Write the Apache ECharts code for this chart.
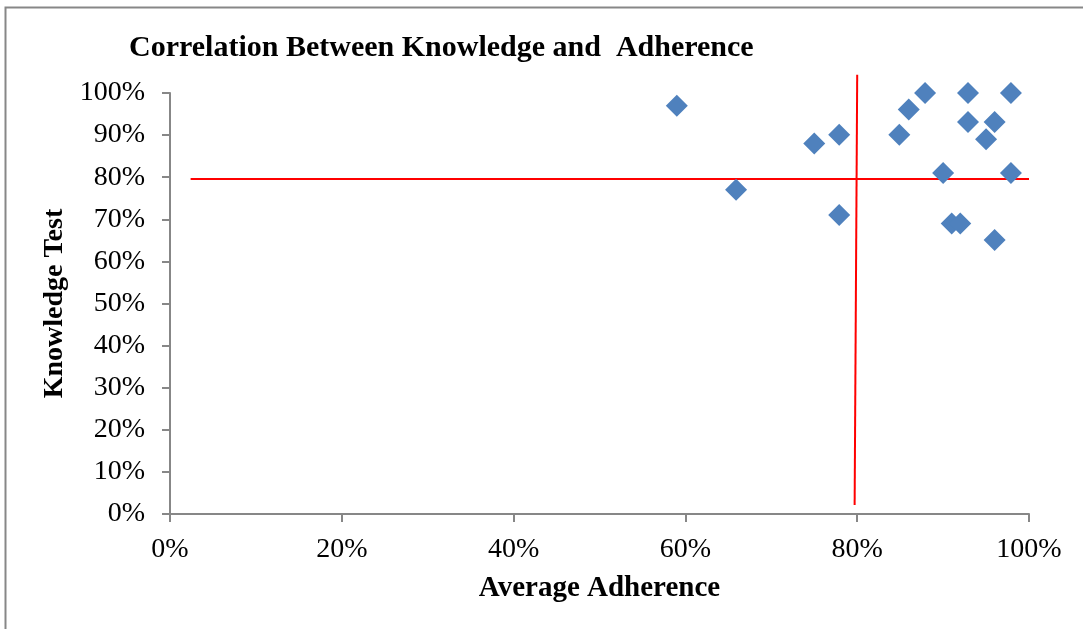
<!DOCTYPE html>
<html>
<head>
<meta charset="utf-8">
<script src="https://cdn.jsdelivr.net/npm/echarts@6/dist/echarts.min.js"></script>
<style>
html,body{margin:0;padding:0;background:#fff;}
#chart{width:1083px;height:629px;}
</style>
</head>
<body>
<div id="chart"></div>
<script>
// Data: [Average Adherence, Knowledge Test]
var adherence = [0.590, 0.659, 0.750, 0.779, 0.779, 0.849, 0.860, 0.879, 0.900, 0.910, 0.920, 0.929, 0.929, 0.950, 0.960, 0.960, 0.979, 0.979];
var knowledge = [0.970, 0.770, 0.880, 0.901, 0.710, 0.901, 0.961, 1.000, 0.810, 0.690, 0.690, 1.000, 0.931, 0.890, 0.931, 0.651, 1.000, 0.810];
// Reference lines (red)
var hLineX = [0.024, 1.0];
var hLineY = [0.7956, 0.7956];
var vLineX = [0.800, 0.797];
var vLineY = [1.0435, 0.0214];
var xTicks = ['0%', '20%', '40%', '60%', '80%', '100%'];
var yTicks = ['0%', '10%', '20%', '30%', '40%', '50%', '60%', '70%', '80%', '90%', '100%'];

var points = adherence.map(function (a, i) { return [a, knowledge[i]]; });
var hLine = hLineX.map(function (x, i) { return [x, hLineY[i]]; });
var vLine = vLineX.map(function (x, i) { return [x, vLineY[i]]; });

var serif = '"Liberation Serif", "DejaVu Serif", serif';
var axisColor = '#878787';

var chart = echarts.init(document.getElementById('chart'), null, {renderer: 'canvas'});
chart.setOption({
  backgroundColor: '#ffffff',
  animation: false,
  title: {
    text: 'Correlation Between Knowledge and  Adherence',
    left: 124,
    top: 28,
    textStyle: {fontFamily: serif, fontWeight: 'bold', fontSize: 30, color: '#000'}
  },
  graphic: [{
    type: 'rect',
    shape: {x: 5.5, y: 7.5, width: 1200, height: 800},
    style: {fill: null, stroke: axisColor, lineWidth: 2},
    silent: true
  }],
  grid: {left: 170, right: 54, top: 93, bottom: 115, containLabel: false},
  xAxis: {
    type: 'value',
    min: 0, max: 1, interval: 0.2,
    name: 'Average Adherence',
    nameLocation: 'middle',
    nameGap: 60,
    nameTextStyle: {fontFamily: serif, fontWeight: 'bold', fontSize: 29, color: '#000'},
    axisLine: {show: true, onZero: false, lineStyle: {color: axisColor, width: 2}},
    axisTick: {show: true, length: 8, inside: false, lineStyle: {color: axisColor, width: 2}},
    splitLine: {show: false},
    axisLabel: {
      margin: 22,
      fontFamily: serif, fontSize: 28, color: '#000',
      formatter: function (v) { return xTicks[Math.round(v / 0.2)]; }
    }
  },
  yAxis: {
    type: 'value',
    min: 0, max: 1, interval: 0.1,
    name: 'Knowledge Test',
    nameLocation: 'middle',
    nameGap: 97,
    nameRotate: 90,
    nameTextStyle: {fontFamily: serif, fontWeight: 'bold', fontSize: 28, color: '#000'},
    axisLine: {show: true, onZero: false, lineStyle: {color: axisColor, width: 2}},
    axisTick: {show: true, length: 8, inside: false, lineStyle: {color: axisColor, width: 2}},
    splitLine: {show: false},
    axisLabel: {
      margin: 25,
      fontFamily: serif, fontSize: 28, color: '#000',
      formatter: function (v) { return yTicks[Math.round(v / 0.1)]; }
    }
  },
  series: [
    {
      type: 'line',
      data: hLine,
      clip: false,
      symbol: 'none',
      lineStyle: {color: '#ff0000', width: 2},
      z: 1
    },
    {
      type: 'line',
      data: vLine,
      clip: false,
      symbol: 'none',
      lineStyle: {color: '#ff0000', width: 2},
      z: 1
    },
    {
      type: 'scatter',
      data: points,
      symbol: 'diamond',
      symbolSize: 22,
      itemStyle: {color: '#4f81bd', opacity: 1},
      z: 3
    }
  ]
});
</script>
</body>
</html>
